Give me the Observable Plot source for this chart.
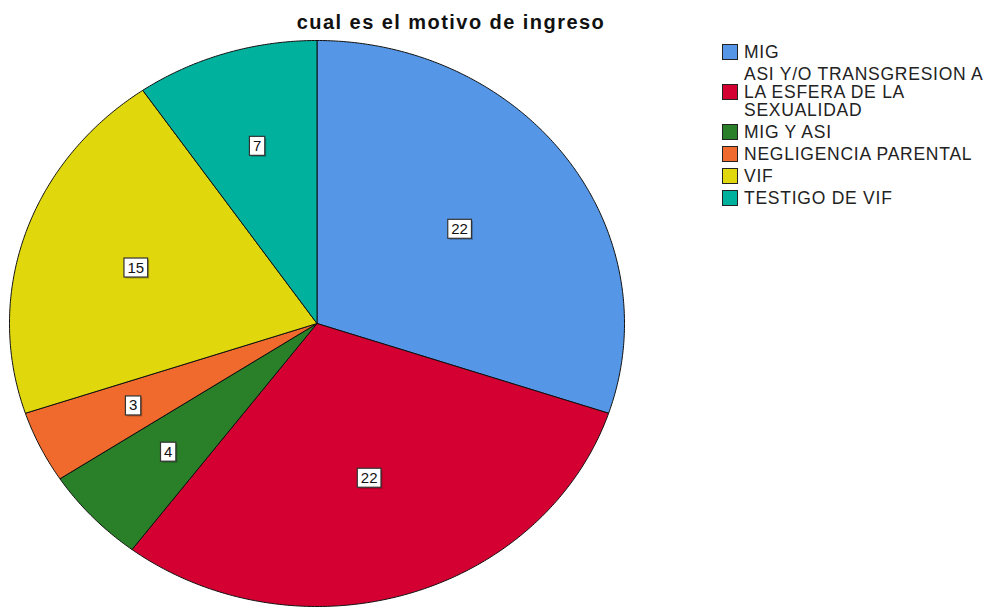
<!DOCTYPE html>
<html>
<head>
<meta charset="utf-8">
<script src="https://cdn.jsdelivr.net/npm/d3@7"></script>
<script src="https://cdn.jsdelivr.net/npm/@observablehq/plot@0.6"></script>
<style>
  body { margin: 0; background: #fff; }
  #wrap { position: relative; width: 992px; height: 608px; overflow: hidden; font-family: "Liberation Sans", Arial, sans-serif; }
  #chart { position: absolute; left: 0; top: 0; }
  #title { position: absolute; left: 451px; top: 12px; transform: translateX(-50%); white-space: nowrap;
           font-weight: bold; font-size: 20px; line-height: 20px; letter-spacing: 1.45px; color: #111; }
  #legend { position: absolute; left: 722px; top: 43px; width: 270px; }
  .item { display: flex; align-items: center; margin-bottom: 4px; }
  .sw { width: 14px; height: 14px; border: 1px solid #222; flex: none; margin-right: 6px; }
  .lab { font-size: 17.5px; line-height: 18px; letter-spacing: 0.75px; color: #222; width: 246px; }
</style>
</head>
<body>
<div id="wrap">
  <div id="chart"></div>
  <div id="title"></div>
  <div id="legend"></div>
</div>
<script>
const title = "cual es el motivo de ingreso";
const categories = [
  "MIG",
  "ASI Y/O TRANSGRESION A LA ESFERA DE LA SEXUALIDAD",
  "MIG Y ASI",
  "NEGLIGENCIA PARENTAL",
  "VIF",
  "TESTIGO DE VIF"
];
const counts = [22, 22, 4, 3, 15, 7];
const colors = ["#5596e6", "#d50032", "#2a8028", "#ef6a2c", "#e0d80c", "#00b29e"];

// slice geometry (clockwise from 12 o'clock), in unit data space
const total = d3.sum(counts);
let acc = 0;
const slices = categories.map((c, i) => {
  const a0 = acc / total * 2 * Math.PI;
  acc += counts[i];
  const a1 = acc / total * 2 * Math.PI;
  return {c, v: counts[i], a0, a1};
});
const outline = [];
for (const s of slices) {
  outline.push({c: s.c, x: 0, y: 0});
  const n = Math.max(2, Math.ceil((s.a1 - s.a0) / (Math.PI / 360)));
  for (let k = 0; k <= n; k++) {
    const a = s.a0 + (s.a1 - s.a0) * k / n;
    outline.push({c: s.c, x: Math.sin(a), y: Math.cos(a)});
  }
  outline.push({c: s.c, x: 0, y: 0});
}
const labels = slices.map(s => {
  const h = (s.a1 - s.a0) / 2, m = (s.a0 + s.a1) / 2;
  const r = 2 * Math.sin(h) / (3 * h);
  return {c: s.c, v: s.v, x: r * Math.sin(m), y: r * Math.cos(m)};
});

const chart = Plot.plot({
  width: 992, height: 608, margin: 0,
  style: {background: "transparent", fontFamily: "Liberation Sans, Arial, sans-serif"},
  x: {domain: [-1, 1], range: [9, 624], axis: null},
  y: {domain: [-1, 1], range: [606, 40], axis: null},
  color: {domain: categories, range: colors},
  marks: [
    Plot.line(outline, {x: "x", y: "y", z: "c", fill: "c", stroke: "#111", strokeWidth: 1, strokeLinejoin: "round", curve: "linear"}),
    Plot.text(labels, {x: "x", y: "y", text: d => String(d.v), fontSize: 15, fill: "#111"})
  ]
});
document.getElementById("chart").appendChild(chart);

// white boxes behind slice labels
const NS = "http://www.w3.org/2000/svg";
chart.querySelectorAll("g[aria-label='text'] text").forEach(t => {
  const b = t.getBBox();
  const tr = t.getAttribute("transform");
  const mk = (dx, fill, stroke) => {
    const r = document.createElementNS(NS, "rect");
    if (tr) r.setAttribute("transform", tr);
    r.setAttribute("x", b.x - 3.5 + dx);
    r.setAttribute("y", b.y - 0.5 + dx);
    r.setAttribute("width", b.width + 7);
    r.setAttribute("height", b.height + 2);
    r.setAttribute("fill", fill);
    if (stroke) { r.setAttribute("stroke", stroke); r.setAttribute("stroke-width", 1.2); }
    t.parentNode.insertBefore(r, t);
  };
  mk(1.5, "rgba(0,0,0,0.25)", null);
  mk(0, "#fff", "#333");
});

document.getElementById("title").textContent = title;
const legend = document.getElementById("legend");
categories.forEach((c, i) => {
  const item = document.createElement("div");
  item.className = "item";
  const sw = document.createElement("div");
  sw.className = "sw";
  sw.style.background = colors[i];
  const lab = document.createElement("div");
  lab.className = "lab";
  lab.textContent = c;
  item.appendChild(sw);
  item.appendChild(lab);
  legend.appendChild(item);
});
</script>
</body>
</html>
